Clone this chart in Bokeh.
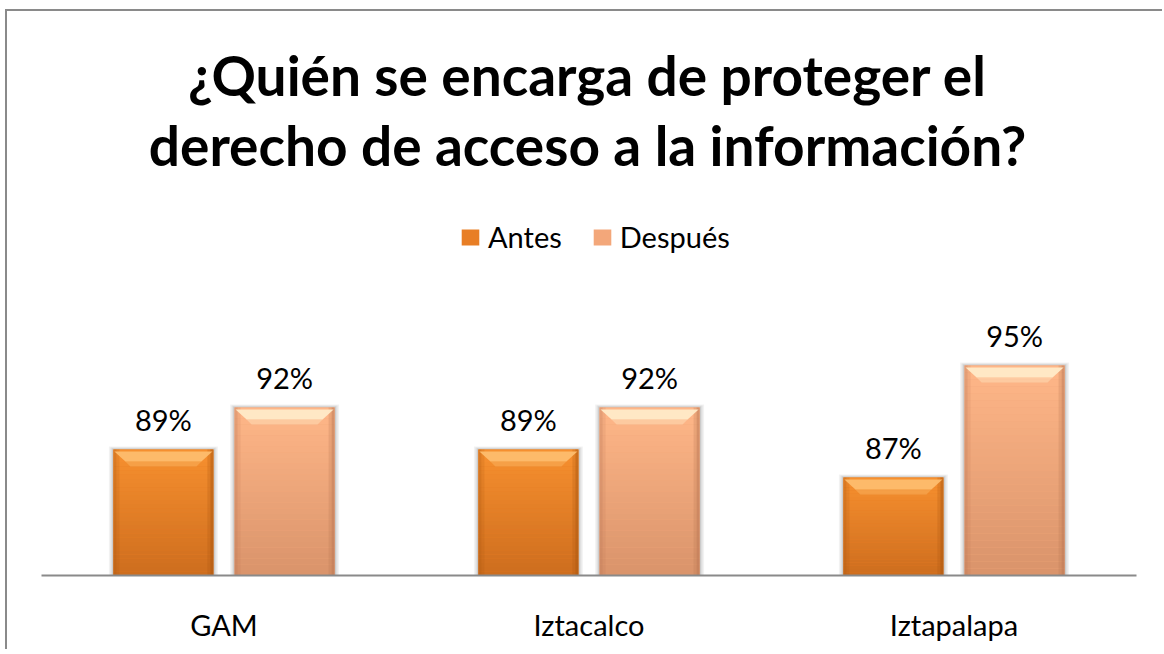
from bokeh.plotting import figure
from bokeh.models import (ColumnDataSource, FixedTicker, LabelSet, Label, Legend, LegendItem, Range1d)
from bokeh.core.properties import value
from bokeh.embed import file_html
from bokeh.resources import INLINE

# ---- data ----
categories = ["GAM", "Iztacalco", "Iztapalapa"]
antes = [89, 89, 87]
despues = [92, 92, 95]
series_names = ["Antes", "Después"]
title_lines = ["¿Quién se encarga de proteger el", "derecho de acceso a la información?"]

FONT = "Lato"
W, H = 1157, 640
ML, MR, MT, MB = 34, 28, 0, 76
FRAME_W = W - ML - MR
FRAME_H = H - MT - MB
Y0 = 80
PX_PER_UNIT = 14.0
Y1 = Y0 + FRAME_H / PX_PER_UNIT
XU = 3.0 / FRAME_W      # data units per px (x)
YU = 1.0 / PX_PER_UNIT  # data units per px (y)

BAR_W = 100 * XU
OFFS = [-0.166, 0.166]

colors = {
    "Antes": dict(top=(247, 144, 47), bot=(205, 109, 30), hi="#FDBD6E", edge="#A8560F", base="#E87E25"),
    "Después": dict(top=(255, 183, 137), bot=(217, 147, 106), hi="#FFEBC8", edge="#B87452", base="#F3A77A"),
}

p = figure(width=W, height=H, output_backend="svg", toolbar_location=None,
           x_range=Range1d(0, 3), y_range=Range1d(Y0, Y1),
           y_axis_location=None, min_border_left=ML, min_border_right=MR,
           min_border_top=MT, min_border_bottom=MB, outline_line_color=None,
           background_fill_color="white", border_fill_color="white")
p.styles = {"border-left": "2px solid #8a8a8a", "border-top": "2px solid #8a8a8a",
            "margin-left": "5px", "margin-top": "9px"}
p.xgrid.visible = False
p.ygrid.visible = False

ax = p.xaxis[0]
ax.ticker = FixedTicker(ticks=[0.5, 1.5, 2.5])
ax.major_label_overrides = {0.5: categories[0], 1.5: categories[1], 2.5: categories[2]}
ax.axis_line_color = "#8a8a8a"
ax.axis_line_width = 2
ax.major_tick_line_color = None
ax.minor_tick_line_color = None
ax.major_label_text_font = FONT
ax.major_label_text_font_size = "29px"
ax.major_label_text_color = "black"
ax.major_label_standoff = 25


def lerp(c1, c2, t):
    return "#%02x%02x%02x" % tuple(int(round(a + (b - a) * t)) for a, b in zip(c1, c2))


legend_items = []
for s_idx, (name, vals) in enumerate(zip(series_names, [antes, despues])):
    c = colors[name]
    xs = [i + 0.5 + OFFS[s_idx] for i in range(len(categories))]
    # soft shadow
    for k, a in [(6, 0.05), (4, 0.07), (2, 0.09)]:
        p.vbar(x=xs, top=[v + k * 0.5 * YU for v in vals], bottom=Y0,
               width=BAR_W + k * XU * 1.5, fill_color="#000000", fill_alpha=a, line_color=None)
    # base bar (legend)
    base = p.vbar(x=xs, top=vals, bottom=Y0, width=BAR_W, fill_color=c["base"], line_color=None)
    legend_items.append(LegendItem(label=name, renderers=[base]))
    # gradient strips
    N = 30
    sx, sb, st, sc = [], [], [], []
    for x, v in zip(xs, vals):
        for k in range(N):
            sx.append(x)
            sb.append(Y0 + (v - Y0) * k / N)
            st.append(Y0 + (v - Y0) * (k + 1) / N + 0.001)
            sc.append(lerp(c["bot"], c["top"], (k + 0.5) / N))
    p.vbar(x="x", top="t", bottom="b", width=BAR_W, fill_color="c", line_color=None,
           source=ColumnDataSource(dict(x=sx, t=st, b=sb, c=sc)))
    # side bevels
    for side, alpha in [(-1, 0.35), (1, 0.55)]:
        for k, a in [(1.5, alpha), (4.5, alpha * 0.45)]:
            p.vbar(x=[x + side * (BAR_W / 2 - k * XU) for x in xs], top=vals, bottom=Y0,
                   width=3 * XU, fill_color=c["edge"], fill_alpha=a, line_color=None)
    # top bevel highlight (trapezoid)
    bxs, bys = [], []
    for x, v in zip(xs, vals):
        l, r = x - BAR_W / 2, x + BAR_W / 2
        d = 12 * XU
        bxs.append([l + 1 * XU, r - 1 * XU, r - d, l + d])
        bys.append([v - 2 * YU, v - 2 * YU, v - 12 * YU, v - 12 * YU])
    p.patches(xs=bxs, ys=bys, fill_color=c["hi"], fill_alpha=0.95, line_color=None)
    bxs2, bys2 = [], []
    for x, v in zip(xs, vals):
        l, r = x - BAR_W / 2, x + BAR_W / 2
        d = 17 * XU
        bxs2.append([l + 12 * XU, r - 12 * XU, r - d, l + d])
        bys2.append([v - 12 * YU, v - 12 * YU, v - 17 * YU, v - 17 * YU])
    p.patches(xs=bxs2, ys=bys2, fill_color=c["hi"], fill_alpha=0.4, line_color=None)
    # data labels
    src = ColumnDataSource(dict(x=xs, y=vals, t=["%d%%" % v for v in vals]))
    p.add_layout(LabelSet(x="x", y="y", text="t", source=src, y_offset=19,
                          text_align="center", text_baseline="alphabetic",
                          text_font=value(FONT), text_font_size="29px", text_color="black"))

legend = Legend(items=legend_items, location=(418, 321), orientation="horizontal",
                padding=0, spacing=29, label_standoff=7,
                glyph_width=22, glyph_height=20, border_line_color=None,
                background_fill_alpha=0, label_text_font=FONT, label_text_font_size="29px",
                label_text_color="black")
p.add_layout(legend)

# title
title_y = [Y0 + (FRAME_H - 63) * YU, Y0 + (FRAME_H - 133) * YU]
for txt, ty in zip(title_lines, title_y):
    p.add_layout(Label(x=(580 - ML) * XU, y=ty, text=txt, text_align="center",
                       text_baseline="alphabetic", text_font=FONT,
                       text_font_size="55px", text_font_style="bold", text_color="black"))

open("out.html", "w").write(file_html(p, INLINE))
